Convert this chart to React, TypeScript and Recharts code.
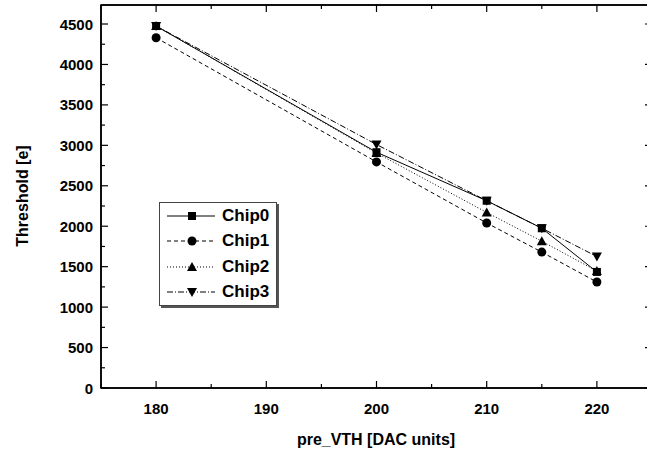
import { LineChart, Line, XAxis, YAxis, ReferenceArea, ReferenceDot } from "recharts"

// pre_VTH settings scanned
const preVth = [180, 200, 210, 215, 220]

// threshold in electrons, one list per chip
const chip0 = [4475, 2915, 2315, 1975, 1435]
const chip1 = [4330, 2795, 2040, 1680, 1310]
const chip2 = [4475, 2905, 2170, 1815, 1445]
const chip3 = [4475, 3010, 2315, 1975, 1625]

const xTicks = [175, 180, 185, 190, 195, 200, 205, 210, 215, 220, 225]
const yTicks = [
  0, 250, 500, 750, 1000, 1250, 1500, 1750, 2000, 2250, 2500, 2750, 3000, 3250, 3500, 3750, 4000, 4250,
  4500,
]

const X_MIN = 175
const X_MAX = 225
const Y_MAX = 4735

const data = preVth.map((x, i) => ({
  x,
  chip0: chip0[i],
  chip1: chip1[i],
  chip2: chip2[i],
  chip3: chip3[i],
}))

const FONT = "'Liberation Sans', Arial, sans-serif"

type Marker = "square" | "circle" | "up" | "down"

// chip3 is plotted against the mirrored top axis (same domain) so that axis gets drawn
const series: { key: string; name: string; dash?: string; marker: Marker; xAxis: string | number }[] = [
  { key: "chip0", name: "Chip0", marker: "square", xAxis: 0 },
  { key: "chip1", name: "Chip1", dash: "4 3", marker: "circle", xAxis: 0 },
  { key: "chip2", name: "Chip2", dash: "1 2", marker: "up", xAxis: 0 },
  { key: "chip3", name: "Chip3", dash: "6 2 1 2", marker: "down", xAxis: "top" },
]

function MarkerShape({ cx, cy, type, s = 4 }: { cx: number; cy: number; type: Marker; s?: number }) {
  if (type === "square") return <rect x={cx - s} y={cy - s} width={s * 2} height={s * 2} fill="#000" />
  if (type === "circle") return <circle cx={cx} cy={cy} r={s + 0.5} fill="#000" />
  if (type === "up")
    return <polygon points={`${cx - s - 1},${cy + s} ${cx + s + 1},${cy + s} ${cx},${cy - s - 1}`} fill="#000" />
  return <polygon points={`${cx - s - 1},${cy - s} ${cx + s + 1},${cy - s} ${cx},${cy + s + 1}`} fill="#000" />
}

const isMajorX = (v: number) => v % 10 === 0
const isMajorY = (v: number) => v % 500 === 0

const BottomTick = (p: any) => {
  const v = p.payload.value
  const major = isMajorX(v)
  return (
    <g>
      <line x1={p.x} x2={p.x} y1={p.y} y2={p.y - (major ? 7 : 4)} stroke="#000" strokeWidth={1.2} />
      {major && (
        <text x={p.x} y={p.y + 26} textAnchor="middle" fontFamily={FONT} fontWeight="bold" fontSize={15} fill="#000">
          {v}
        </text>
      )}
    </g>
  )
}

const TopTick = (p: any) => {
  const major = isMajorX(p.payload.value)
  return <line x1={p.x} x2={p.x} y1={p.y} y2={p.y + (major ? 7 : 4)} stroke="#000" strokeWidth={1.2} />
}

const LeftTick = (p: any) => {
  const v = p.payload.value
  const major = isMajorY(v)
  return (
    <g>
      <line x1={p.x} x2={p.x + (major ? 7 : 4)} y1={p.y} y2={p.y} stroke="#000" strokeWidth={1.2} />
      {major && (
        <text x={p.x - 8} y={p.y + 5.5} textAnchor="end" fontFamily={FONT} fontWeight="bold" fontSize={15} fill="#000">
          {v}
        </text>
      )}
    </g>
  )
}

// short inward tick for the mirrored right side
const RightTickMark = (v: number) => (p: any) =>
  <line x1={p.cx} x2={p.cx - (isMajorY(v) ? 7 : 4)} y1={p.cy} y2={p.cy} stroke="#000" strokeWidth={1.2} />

const LegendBox = () => (
  <div
    style={{
      position: "absolute",
      left: 159,
      top: 202,
      width: 116,
      height: 102,
      border: "1px solid #444",
      boxShadow: "2px 2px 0 #555",
      background: "#fff",
      fontFamily: FONT,
      fontWeight: "bold",
      fontSize: 17,
    }}
  >
    {series.map((s) => (
      <div key={s.key} style={{ display: "flex", alignItems: "center", height: 25.5 }}>
        <svg width={62} height={20} style={{ flex: "none" }}>
          <line x1={7} x2={55} y1={10} y2={10} stroke="#000" strokeWidth={1} strokeDasharray={s.dash} />
          <MarkerShape cx={32} cy={10} type={s.marker} />
        </svg>
        <span>{s.name}</span>
      </div>
    ))}
  </div>
)

export default function App() {
  return (
    <div style={{ position: "absolute", left: 0, top: 0, width: 647, height: 451, overflow: "hidden", background: "#fff" }}>
      <LineChart width={660} height={451} data={data} margin={{ top: 4, right: 8, left: 100, bottom: 62 }}>
        <XAxis
          dataKey="x"
          type="number"
          domain={[X_MIN, X_MAX]}
          ticks={xTicks}
          interval={0}
          height={1}
          tickSize={0}
          tickMargin={0}
          tickLine={false}
          axisLine={{ stroke: "#000", strokeWidth: 1.5 }}
          tick={BottomTick}
          label={{
            content: () => (
              <text x={376} y={445} textAnchor="middle" fontFamily={FONT} fontWeight="bold" fontSize={16} fill="#000">
                pre_VTH [DAC units]
              </text>
            ),
          }}
        />
        <XAxis
          xAxisId="top"
          orientation="top"
          dataKey="x"
          type="number"
          domain={[X_MIN, X_MAX]}
          ticks={xTicks}
          interval={0}
          height={1}
          tickSize={0}
          tickMargin={0}
          tickLine={false}
          axisLine={{ stroke: "#000", strokeWidth: 1.5 }}
          tick={TopTick}
        />
        <YAxis
          type="number"
          domain={[0, Y_MAX]}
          ticks={yTicks}
          interval={0}
          width={1}
          tickSize={0}
          tickMargin={0}
          tickLine={false}
          axisLine={{ stroke: "#000", strokeWidth: 1.5 }}
          tick={LeftTick}
          label={{
            content: () => (
              <text
                x={28}
                y={196}
                transform="rotate(-90 28 196)"
                textAnchor="middle"
                fontFamily={FONT}
                fontWeight="bold"
                fontSize={16}
                fill="#000"
              >
                Threshold [e]
              </text>
            ),
          }}
        />
        {/* frame around the plot, with mirrored ticks on the right */}
        <ReferenceArea x1={X_MIN} x2={X_MAX} y1={0} y2={Y_MAX} fill="#fff" fillOpacity={0} stroke="#000" strokeWidth={1.5} />
        {yTicks.map((v) => (
          <ReferenceDot key={`ty${v}`} x={X_MAX} y={v} r={1} shape={RightTickMark(v)} />
        ))}
        {series.map((s) => (
          <Line
            key={s.key}
            xAxisId={s.xAxis}
            dataKey={s.key}
            name={s.name}
            type="linear"
            stroke="#000"
            strokeWidth={1}
            strokeDasharray={s.dash}
            isAnimationActive={false}
            dot={(p: any) => <MarkerShape key={`${s.key}-${p.index}`} cx={p.cx} cy={p.cy} type={s.marker} />}
            activeDot={false}
          />
        ))}
      </LineChart>
      <LegendBox />
    </div>
  )
}
